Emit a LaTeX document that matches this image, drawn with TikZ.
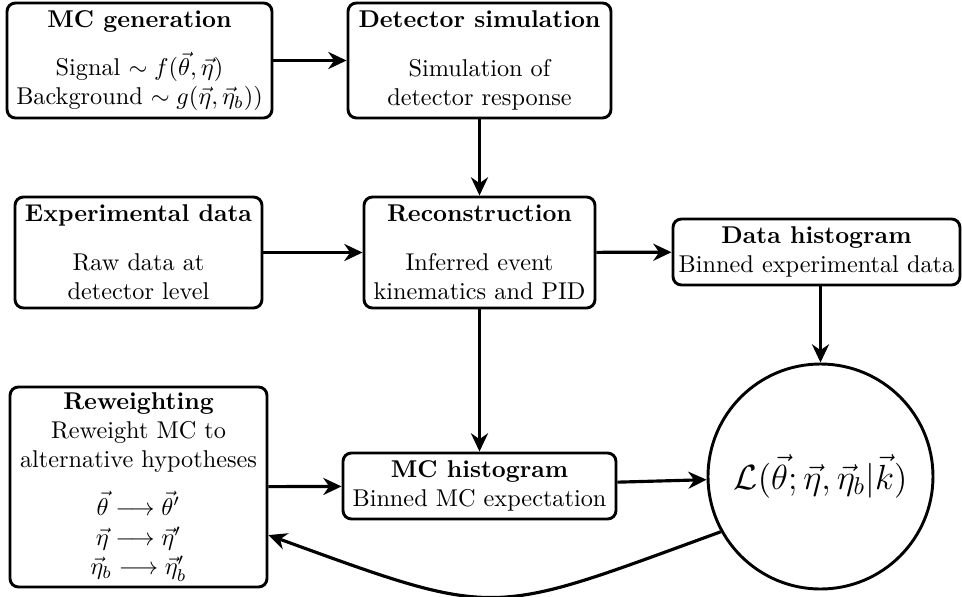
\documentclass[tikz,border=0pt]{standalone}
\usepackage{amsmath}
\usetikzlibrary{arrows.meta}
\tikzset{
  box/.style={draw, line width=1.2pt, rounded corners=3.5pt, align=center, inner sep=1pt},
  boxsize/.style 2 args={minimum width=#1*0.412pt, minimum height=#2*0.412pt},
  arr/.style={line width=1.3pt, -{Stealth[length=7.5pt,width=7pt,inset=2.4pt]}},
}
\begin{document}
\begin{tikzpicture}[x=0.412pt,y=-0.412pt]
\fill[white] (0,0) rectangle (962,596);
\path[use as bounding box] (0,0) rectangle (962,596);

\node[box, boxsize={265}{115}] (mcg) at (139.5,60.5)
  {\textbf{MC generation}\\[8pt]
   Signal $\sim f(\vec{\theta},\vec{\eta})$\\
   Background $\sim g(\vec{\eta},\vec{\eta}_b))$};
\node[box, boxsize={263}{115}] (det) at (479.5,60.5)
  {\textbf{Detector simulation}\\[8pt]
   Simulation of\\ detector response};
\node[box, boxsize={247}{111}] (exp) at (138.5,252.5)
  {\textbf{Experimental data}\\[8pt]
   Raw data at\\ detector level};
\node[box, boxsize={231}{111}] (rec) at (479.5,252.5)
  {\textbf{Reconstruction}\\[8pt]
   Inferred event\\ kinematics and PID};
\node[box, boxsize={287}{66}] (dh) at (816.5,252)
  {\textbf{Data histogram}\\ Binned experimental data};
\node[box, boxsize={273}{66}] (mch) at (479.5,486)
  {\textbf{MC histogram}\\ Binned MC expectation};
\node[box, boxsize={257}{200}] (rw) at (138.5,487)
  {\lineskiplimit=-100pt\textbf{Reweighting}\\ Reweight MC to\\ alternative hypotheses\\[7.5pt]
   $\vec{\theta}\longrightarrow\vec{\theta}'$\\[0.5pt]
   $\vec{\eta}\longrightarrow\vec{\eta}'$\\
   $\vec{\eta}_b\longrightarrow\vec{\eta}_b'$};
\node[draw, circle, line width=1.2pt, minimum size=225*0.412pt, inner sep=0pt] (L) at (820.5,476.5)
  {\fontsize{14pt}{17pt}\selectfont$\mathcal{L}(\vec{\theta};\vec{\eta},\vec{\eta}_b|\vec{k})$};

\draw[arr] (mcg) -- (det);
\draw[arr] (det) -- (rec);
\draw[arr] (exp) -- (rec);
\draw[arr] (rec) -- (dh);
\draw[arr] (rec) -- (mch);
\draw[arr] (dh.south -| L.north) -- (L.north);
\draw[arr] (rw) -- (mch);
\draw[arr] (mch) -- (L);
\draw[arr] (L.209) to[out=200, in=-20, looseness=1.4] ([yshift=-19.8pt]rw.east);
\end{tikzpicture}
\end{document}
